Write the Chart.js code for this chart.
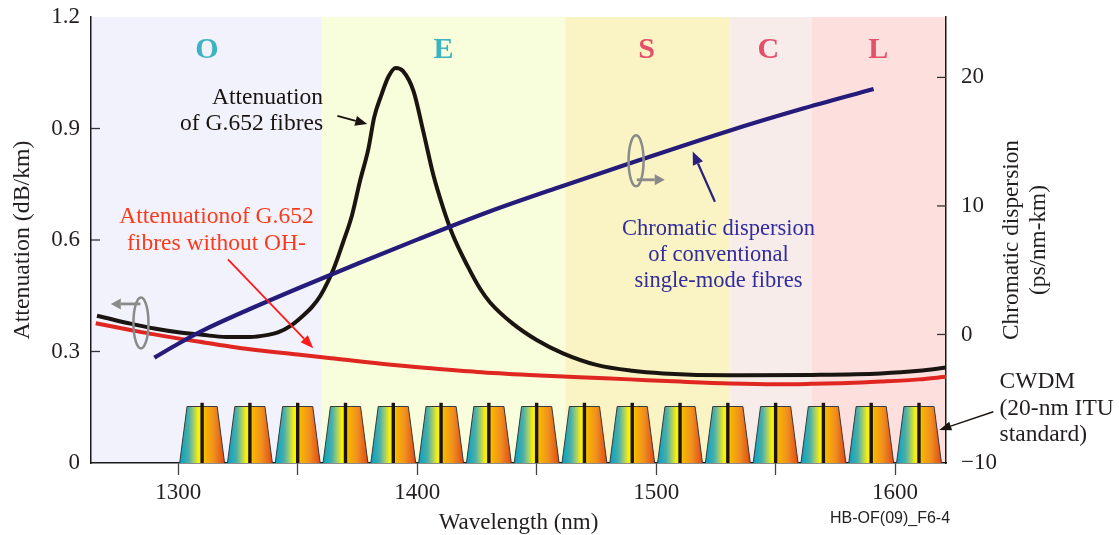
<!DOCTYPE html>
<html>
<head>
<meta charset="utf-8">
<style>
html,body{margin:0;padding:0;background:#ffffff;}
#wrap{width:1119px;height:535px;position:relative;}
</style>
<script src="https://cdn.jsdelivr.net/npm/chart.js@4.4.0/dist/chart.umd.min.js"></script>
</head>
<body>
<div id="wrap"><canvas id="c" width="1119" height="535"></canvas></div>
<script>
// ---------------- data ----------------
// Attenuation of G.652 fibres (dB/km) vs wavelength (nm)
const attWl  = [1266, 1270, 1280, 1290, 1300, 1310, 1320, 1330, 1337, 1342, 1347, 1352, 1356, 1359.5, 1365, 1369, 1372.7, 1376, 1379.6, 1382, 1385, 1388, 1391, 1394, 1398.5, 1402.6, 1406.8, 1411, 1415, 1421, 1426.4, 1430.5, 1440, 1450, 1461, 1475, 1490, 1503, 1531, 1565, 1594, 1610, 1621.3];
const attVal = [0.396, 0.39, 0.375, 0.362, 0.352, 0.345, 0.339, 0.339, 0.344, 0.352, 0.369, 0.395, 0.42, 0.45, 0.522, 0.594, 0.666, 0.757, 0.846, 0.93, 0.99, 1.04, 1.063, 1.055, 1.0, 0.891, 0.774, 0.684, 0.612, 0.531, 0.468, 0.432, 0.375, 0.331, 0.295, 0.264, 0.248, 0.241, 0.236, 0.237, 0.241, 0.248, 0.257];
// Attenuation of G.652 fibres without OH- (dB/km)
const attNoOhWl  = [1265.5, 1280, 1290, 1309, 1330, 1350, 1364, 1385, 1405.5, 1425, 1447, 1468, 1489, 1510, 1531, 1550, 1564.5, 1580, 1594, 1610, 1621.3];
const attNoOhVal = [0.376, 0.358, 0.346, 0.326, 0.306, 0.292, 0.282, 0.267, 0.255, 0.245, 0.237, 0.231, 0.225, 0.219, 0.214, 0.212, 0.213, 0.215, 0.219, 0.225, 0.232];
// Chromatic dispersion of conventional single-mode fibres (ps/nm-km)
const dispWl  = [1290, 1300, 1310, 1330, 1350, 1375, 1400, 1430, 1460, 1490, 1530, 1560, 1591];
const dispVal = [-1.8, -0.72, 0.28, 1.98, 3.58, 5.5, 7.38, 9.55, 11.5, 13.38, 15.82, 17.5, 19.1];
// Spectral bands
const bandNames   = ['O', 'E', 'S', 'C', 'L'];
const bandStart   = [1260, 1360, 1462, 1531, 1565];
const bandEnd     = [1360, 1462, 1531, 1565, 1625];
const bandLabelWl = [1312, 1411, 1496, 1547, 1593];
// CWDM channel centres (20-nm ITU grid)
const cwdmCenters = [1310, 1330, 1350, 1370, 1390, 1410, 1430, 1450, 1470, 1490, 1510, 1530, 1550, 1570, 1590, 1610];
// Axes ticks
const xTicks      = [1300, 1350, 1400, 1450, 1500, 1550, 1600];
const xTickLabels = ['1300', '', '1400', '', '1500', '', '1600'];
const yLeftTicks       = [0, 0.3, 0.6, 0.9, 1.2];
const yLeftTickLabels  = ['0', '0.3', '0.6', '0.9', '1.2'];
const yRightTicks      = [-10, 0, 10, 20];
const yRightTickLabels = ['\u221210', '0', '10', '20'];

// ---------------- styles ----------------
const SERIF = "'Liberation Serif','Times New Roman',serif";
const SANS = "'Liberation Sans',Arial,sans-serif";
const INK = '#231f20';
const bandColors = ['#f2f2fc', '#f8fddb', '#faf3c4', '#f8ecea', '#fde0de'];
const bandLetterColors = ['#3bb3c3', '#3bb3c3', '#e4506a', '#e4506a', '#e4506a'];

function drawArrow(ctx, x1, y1, x2, y2, color, lw, headLen, headW) {
  const ang = Math.atan2(y2 - y1, x2 - x1);
  const bx = x2 - headLen * Math.cos(ang), by = y2 - headLen * Math.sin(ang);
  ctx.save();
  ctx.strokeStyle = color; ctx.fillStyle = color; ctx.lineWidth = lw;
  ctx.beginPath(); ctx.moveTo(x1, y1); ctx.lineTo(bx, by); ctx.stroke();
  ctx.beginPath();
  ctx.moveTo(x2, y2);
  ctx.lineTo(bx + headW / 2 * Math.sin(ang), by - headW / 2 * Math.cos(ang));
  ctx.lineTo(bx - headW / 2 * Math.sin(ang), by + headW / 2 * Math.cos(ang));
  ctx.closePath(); ctx.fill();
  ctx.restore();
}

const backgroundPlugin = {
  id: 'bands',
  beforeDraw(chart) {
    const {ctx, chartArea: a, scales: {x, y}} = chart;
    ctx.save();
    for (let i = 0; i < bandNames.length; i++) {
      const x0 = Math.max(a.left, x.getPixelForValue(bandStart[i]));
      const x1 = Math.min(a.right, x.getPixelForValue(bandEnd[i]));
      ctx.fillStyle = bandColors[i];
      ctx.fillRect(x0, a.top, x1 - x0, a.bottom - a.top);
    }
    // band letters
    ctx.font = 'bold 30px ' + SERIF;
    ctx.textAlign = 'center';
    ctx.textBaseline = 'alphabetic';
    for (let i = 0; i < bandNames.length; i++) {
      ctx.fillStyle = bandLetterColors[i];
      ctx.fillText(bandNames[i], x.getPixelForValue(bandLabelWl[i]), y.getPixelForValue(1.091));
    }
    ctx.restore();
  },
  beforeDatasetsDraw(chart) {
    const {ctx, scales: {x, y}} = chart;
    const yb = y.getPixelForValue(0), yt = y.getPixelForValue(0.152), ybar = y.getPixelForValue(0.162);
    ctx.save();
    cwdmCenters.forEach(c => {
      const bl = x.getPixelForValue(c - 9.4), br = x.getPixelForValue(c + 9.4);
      const tl = x.getPixelForValue(c - 6.3), tr = x.getPixelForValue(c + 6.3);
      const g = ctx.createLinearGradient(bl, 0, br, 0);
      g.addColorStop(0, '#00a2c8');
      g.addColorStop(0.2, '#4aafa8');
      g.addColorStop(0.32, '#a8d068');
      g.addColorStop(0.42, '#fff200');
      g.addColorStop(0.5, '#ffe000');
      g.addColorStop(0.57, '#f8b400');
      g.addColorStop(0.76, '#f09020');
      g.addColorStop(1, '#e04a14');
      ctx.beginPath();
      ctx.moveTo(bl, yb); ctx.lineTo(tl, yt); ctx.lineTo(tr, yt); ctx.lineTo(br, yb); ctx.closePath();
      ctx.fillStyle = g; ctx.fill();
      ctx.beginPath();
      ctx.moveTo(bl, yb); ctx.lineTo(tl, yt); ctx.lineTo(tr, yt); ctx.lineTo(br, yb);
      ctx.strokeStyle = '#3a3a3a'; ctx.lineWidth = 1; ctx.stroke();
      const xc = x.getPixelForValue(c);
      ctx.fillStyle = '#1a1410';
      ctx.fillRect(xc - 1.7, ybar, 3.4, yb - ybar);
    });
    ctx.restore();
  },
  afterDatasetsDraw(chart) {
    const {ctx, chartArea: a, scales: {x, y, y2}} = chart;
    const P = (wl, v) => [x.getPixelForValue(wl), y.getPixelForValue(v)];
    ctx.save();
    // inward tick marks on the vertical axes
    ctx.strokeStyle = '#333'; ctx.lineWidth = 1.3;
    yLeftTicks.forEach(v => {
      const py = y.getPixelForValue(v);
      if (py > a.top + 1 && py < a.bottom - 1) { ctx.beginPath(); ctx.moveTo(a.left, py); ctx.lineTo(a.left + 9, py); ctx.stroke(); }
    });
    yRightTicks.forEach(v => {
      const py = y2.getPixelForValue(v);
      if (py > a.top + 1 && py < a.bottom - 1) { ctx.beginPath(); ctx.moveTo(a.right - 9, py); ctx.lineTo(a.right, py); ctx.stroke(); }
    });

    // annotations
    ctx.textBaseline = 'alphabetic';
    ctx.font = '23.5px ' + SERIF;
    ctx.fillStyle = '#1a1410';
    ctx.textAlign = 'right';
    let p = P(1360.6, 0.966); ctx.fillText('Attenuation', p[0], p[1]);
    p = P(1360.6, 0.896); ctx.fillText('of G.652 fibres', p[0], p[1]);

    ctx.fillStyle = '#fb3a1c';
    ctx.textAlign = 'center';
    p = P(1316, 0.645); ctx.fillText('Attenuationof G.652', p[0], p[1]);
    p = P(1316, 0.572); ctx.fillText('fibres without OH-', p[0], p[1]);

    ctx.font = '22.5px ' + SERIF;
    ctx.fillStyle = '#302c9c';
    p = P(1526.1, 0.614); ctx.fillText('Chromatic dispersion', p[0], p[1]);
    p = P(1526.1, 0.544); ctx.fillText('of conventional', p[0], p[1]);
    p = P(1526.1, 0.474); ctx.fillText('single-mode fibres', p[0], p[1]);

    ctx.font = '23.5px ' + SERIF;
    ctx.fillStyle = INK;
    ctx.textAlign = 'left';
    p = P(1643.7, 0.201); ctx.fillText('CWDM', p[0], p[1]);
    p = P(1643.7, 0.129); ctx.fillText('(20-nm ITU', p[0], p[1]);
    p = P(1643.7, 0.059); ctx.fillText('standard)', p[0], p[1]);

    ctx.font = '16px ' + SANS;
    ctx.fillStyle = '#222';
    ctx.textAlign = 'right';
    p = P(1623, -0.162); ctx.fillText('HB-OF(09)_F6-4', p[0], p[1]);

    // arrows
    let q1 = P(1366.6, 0.934), q2 = P(1379.1, 0.912);
    drawArrow(ctx, q1[0], q1[1], q2[0], q2[1], '#1a1410', 2, 12, 10);
    q1 = P(1320.8, 0.548); q2 = P(1356.5, 0.309);
    drawArrow(ctx, q1[0], q1[1], q2[0], q2[1], '#ff1a1a', 1.8, 13, 10);
    q1 = P(1524.6, 0.703); q2 = P(1515.3, 0.838);
    drawArrow(ctx, q1[0], q1[1], q2[0], q2[1], '#2a2080', 2.2, 13, 11);
    q1 = P(1641.1, 0.138); q2 = P(1618.5, 0.089);
    drawArrow(ctx, q1[0], q1[1], q2[0], q2[1], '#1a1410', 1.5, 12, 9);

    // axis-side indicators (grey ellipses with arrows)
    ctx.strokeStyle = '#8a8a8a'; ctx.lineWidth = 2.5;
    let e = P(1284.4, 0.377);
    ctx.beginPath(); ctx.ellipse(e[0], e[1], 7.5, 25.5, 0, 0, Math.PI * 2); ctx.stroke();
    q1 = P(1284.2, 0.428); q2 = P(1271.8, 0.428);
    drawArrow(ctx, q1[0], q1[1], q2[0], q2[1], '#8a8a8a', 2.8, 10, 11);
    e = P(1491.6, 0.813);
    ctx.beginPath(); ctx.ellipse(e[0], e[1], 7.5, 25.5, 0, 0, Math.PI * 2); ctx.stroke();
    q1 = P(1491.9, 0.762); q2 = P(1503.6, 0.762);
    drawArrow(ctx, q1[0], q1[1], q2[0], q2[1], '#8a8a8a', 2.8, 10, 11);

    // right axis title (reads bottom to top)
    const cy = (a.top + a.bottom) / 2;
    ctx.font = '23.3px ' + SERIF;
    ctx.fillStyle = INK;
    ctx.textAlign = 'center';
    ctx.textBaseline = 'alphabetic';
    ctx.translate(a.right + 72, cy);
    ctx.rotate(-Math.PI / 2);
    ctx.fillText('Chromatic dispersion', 0, 0);
    ctx.fillText('(ps/nm-km)', 0, 27);
    ctx.restore();
  }
};

const pts = (xs, ys) => xs.map((v, i) => ({x: v, y: ys[i]}));
const noPad = s => { s.paddingTop = 0; s.paddingBottom = 0; s.paddingLeft = 0; s.paddingRight = 0; };

new Chart(document.getElementById('c').getContext('2d'), {
  type: 'line',
  data: {
    datasets: [
      {label: 'Chromatic dispersion of conventional single-mode fibres', data: pts(dispWl, dispVal), yAxisID: 'y2',
       borderColor: '#241b7a', borderWidth: 4.2, pointRadius: 0, cubicInterpolationMode: 'monotone', fill: false},
      {label: 'Attenuation of G.652 fibres', data: pts(attWl, attVal), yAxisID: 'y',
       borderColor: '#1b1511', borderWidth: 4, pointRadius: 0, cubicInterpolationMode: 'monotone', fill: false},
      {label: 'Attenuation of G.652 fibres without OH-', data: pts(attNoOhWl, attNoOhVal), yAxisID: 'y',
       borderColor: '#df2620', borderWidth: 4, pointRadius: 0, cubicInterpolationMode: 'monotone', fill: false}
    ]
  },
  options: {
    responsive: false,
    animation: false,
    devicePixelRatio: 1,
    layout: {padding: {top: 17, left: 0, right: 0, bottom: 0}},
    plugins: {legend: {display: false}, tooltip: {enabled: false}},
    scales: {
      x: {
        type: 'linear', position: 'bottom', min: 1263.5, max: 1621.3,
        afterBuildTicks: s => { s.ticks = xTicks.map(v => ({value: v})); },
        afterFit: s => { s.height = 72; noPad(s); },
        grid: {display: true, drawOnChartArea: false, drawTicks: true, tickLength: 12, tickColor: '#444', tickWidth: 1.3},
        border: {display: true, color: '#1a1a1a', width: 1.5},
        ticks: {autoSkip: false, maxRotation: 0, padding: 4, color: INK, font: {family: SERIF, size: 23, lineHeight: 1.2},
                callback: (v, i) => xTickLabels[i]},
        title: {display: true, text: 'Wavelength (nm)', color: INK, font: {family: SERIF, size: 23, lineHeight: 1.0}, padding: {top: 0, bottom: 0.5}}
      },
      y: {
        type: 'linear', position: 'left', min: 0, max: 1.2,
        afterBuildTicks: s => { s.ticks = yLeftTicks.map(v => ({value: v})); },
        afterFit: s => { s.width = 91; noPad(s); },
        grid: {display: false, drawTicks: false},
        border: {display: true, color: '#1a1a1a', width: 1.5},
        ticks: {padding: 11, color: INK, font: {family: SERIF, size: 23},
                callback: (v, i) => yLeftTickLabels[i]},
        title: {display: true, text: 'Attenuation (dB/km)', color: INK, font: {family: SERIF, size: 23.8, lineHeight: 1.2}, padding: {top: 8, bottom: 0}}
      },
      y2: {
        type: 'linear', position: 'right', min: -10, max: 24.7,
        afterBuildTicks: s => { s.ticks = yRightTicks.map(v => ({value: v})); },
        afterFit: s => { s.width = 173; noPad(s); },
        grid: {display: false, drawTicks: false},
        border: {display: true, color: '#1a1a1a', width: 1.5},
        ticks: {padding: 15, color: INK, font: {family: SERIF, size: 23},
                callback: (v, i) => yRightTickLabels[i]}
      }
    }
  },
  plugins: [backgroundPlugin]
});
</script>
</body>
</html>
